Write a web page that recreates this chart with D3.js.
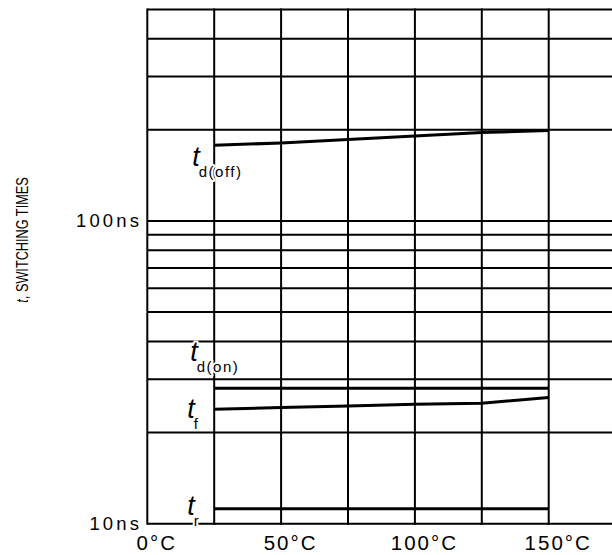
<!DOCTYPE html>
<html>
<head>
<meta charset="utf-8">
<script src="https://cdn.jsdelivr.net/npm/d3@7"></script>
<style>
  body { margin: 0; background: #fff; }
  svg { display: block; font-family: "Liberation Sans", Arial, sans-serif; }
</style>
</head>
<body>
<div id="chart"></div>
<script>
// data
const temps = [25, 50, 75, 100, 125, 150];
const tdOff = [178, 181, 186, 191, 196, 199];
const tdOn  = [28, 28, 28, 28, 28, 28];
const tFall = [23.9, 24.2, 24.5, 24.8, 25.0, 26.1];
const tRise = [11.2, 11.2, 11.2, 11.2, 11.2, 11.2];

const xGrid = [0, 25, 50, 75, 100, 125, 150, 175];
const xTickVals = [0, 50, 100, 150];
const xTickText = ["0°C", "50°C", "100°C", "150°C"];
const yGrid = [10, 20, 30, 40, 50, 60, 70, 80, 90, 100, 200, 300, 400, 500];
const yTickVals = [10, 100];
const yTickText = ["10ns", "100ns"];

const W = 612, H = 555;

const x = d3.scaleLinear().domain([0, 175]).range([147.3, 615.6]);
const y = d3.scaleLog().domain([10, 500]).range([523.7, 9.4]);

const svg = d3.select("#chart").append("svg")
    .attr("width", W)
    .attr("height", H);

// grid
svg.append("g").selectAll("line")
    .data(yGrid)
    .enter().append("line")
    .attr("x1", x(0)).attr("x2", x(175))
    .attr("y1", d => y(d)).attr("y2", d => y(d))
    .attr("stroke", "#000").attr("stroke-width", 2);

svg.append("g").selectAll("line")
    .data(xGrid)
    .enter().append("line")
    .attr("x1", d => x(d)).attr("x2", d => x(d))
    .attr("y1", y(500) - 1).attr("y2", y(10) + 1)
    .attr("stroke", "#000").attr("stroke-width", 2);

// tick labels
svg.append("g").selectAll("text")
    .data(yTickVals)
    .enter().append("text")
    .attr("x", x(0) - 5)
    .attr("y", d => y(d) + 6)
    .attr("text-anchor", "end")
    .style("font-size", "18.5px")
    .style("letter-spacing", "3.2px")
    .text((d, i) => yTickText[i]);

svg.append("g").selectAll("text")
    .data(xTickVals)
    .enter().append("text")
    .attr("x", d => x(d) + 9.5)
    .attr("y", 550)
    .attr("text-anchor", "middle")
    .style("font-size", "20.5px")
    .style("letter-spacing", "2px")
    .text((d, i) => xTickText[i]);

// axis title (narrow face in the original, so squeeze it)
const title = svg.append("g")
    .attr("transform", "translate(27.5,240) rotate(-90)")
  .append("text")
    .attr("transform", "scale(0.77,1)")
    .attr("text-anchor", "middle")
    .attr("font-size", 16.5);
title.append("tspan").attr("font-style", "italic").text("t");
title.append("tspan").text(", SWITCHING TIMES");

// curves
const line = d3.line()
    .x((d, i) => x(temps[i]))
    .y(d => y(d));

const series = [
    { values: tdOff, sub: "d(off)", dx: -22, dy: 21 },
    { values: tdOn,  sub: "d(on)",  dx: -24, dy: -27 },
    { values: tFall, sub: "f",      dx: -27, dy: 9 },
    { values: tRise, sub: "r",      dx: -27, dy: 6 }
];

svg.append("g").selectAll("path")
    .data(series)
    .enter().append("path")
    .attr("d", d => line(d.values))
    .attr("fill", "none")
    .attr("stroke", "#000")
    .attr("stroke-width", 3);

// curve labels with white halo
const labels = svg.append("g").selectAll("text")
    .data(series)
    .enter().append("text")
    .attr("x", d => x(temps[0]) + d.dx)
    .attr("y", d => y(d.values[0]) + d.dy)
    .style("paint-order", "stroke")
    .style("stroke", "#fff")
    .style("stroke-width", "4px")
    .style("stroke-linejoin", "round");

labels.append("tspan")
    .style("font-style", "italic")
    .style("font-size", "27px")
    .text("t");
labels.append("tspan")
    .attr("dx", -1)
    .attr("dy", 11)
    .style("font-size", "15px")
    .style("letter-spacing", "1.5px")
    .text(d => d.sub);
</script>
</body>
</html>
